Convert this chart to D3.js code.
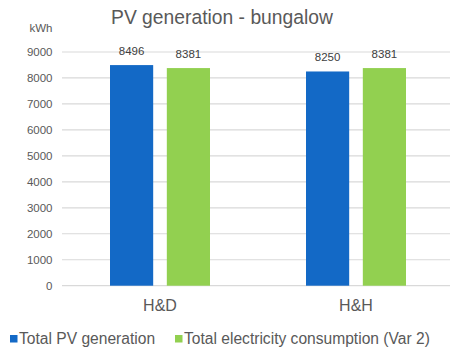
<!DOCTYPE html>
<html><head><meta charset="utf-8">
<script src="https://cdn.jsdelivr.net/npm/d3@7"></script>
<style>body{margin:0;background:#fff;}svg{display:block;font-family:"Liberation Sans",Arial,sans-serif;}</style>
</head><body>
<svg id="chart" width="452" height="349"></svg>
<script>
const categories = ["H&D", "H&H"];
const seriesNames = ["Total PV generation", "Total electricity consumption (Var 2)"];
const pvGeneration = [8496, 8250];
const consumption = [8381, 8381];
const yTicks = [0,1000,2000,3000,4000,5000,6000,7000,8000,9000];
const colors = ["#1369C6", "#92D050"];

(function(){
const svg = d3.select("#chart");
const pLeft = 62, pRight = 454, pTop = 52, pBottom = 285.7;
const x = d3.scaleBand().domain(categories).range([pLeft, pRight]).paddingInner(0).paddingOuter(0);
const x1 = d3.scaleBand().domain(seriesNames).range([x.bandwidth()/2 - 50, x.bandwidth()/2 + 50]).paddingInner(0.24);
const y = d3.scaleLinear().domain([0, 9000]).range([pBottom, pTop]);

svg.append("g").selectAll("line").data(yTicks).join("line")
  .attr("x1", pLeft).attr("x2", 450)
  .attr("y1", d => y(d)).attr("y2", d => y(d))
  .attr("stroke", "#d9d9d9").attr("stroke-width", 1.2);

const yAxis = d3.axisLeft(y).tickValues(yTicks).tickSize(0).tickPadding(0).tickFormat(d3.format("d"));
const ga = svg.append("g").attr("transform", `translate(52.5,0)`).call(yAxis);
ga.select(".domain").remove();
ga.selectAll("text").attr("fill", "#595959").style("font-size", "11.5px").style("font-family", "Liberation Sans, Arial, sans-serif");

svg.append("text").attr("x", 52.5).attr("y", 32).attr("text-anchor", "end")
  .attr("fill", "#595959").style("font-size", "11.5px").text("kWh");

svg.append("text").attr("x", 222).attr("y", 24).attr("text-anchor", "middle")
  .attr("fill", "#595959").style("font-size", "19.3px").text("PV generation - bungalow");

const data = categories.map((c, i) => ({cat: c, vals: [pvGeneration[i], consumption[i]]}));
const groups = svg.append("g").selectAll("g").data(data).join("g")
  .attr("transform", d => `translate(${x(d.cat)},0)`);
groups.selectAll("rect").data(d => d.vals.map((v, j) => ({s: seriesNames[j], v, j}))).join("rect")
  .attr("x", d => x1(d.s)).attr("width", x1.bandwidth())
  .attr("y", d => y(d.v)).attr("height", d => y(0) - y(d.v))
  .attr("fill", d => colors[d.j]);
groups.selectAll("text.val").data(d => d.vals.map((v, j) => ({s: seriesNames[j], v, j}))).join("text")
  .attr("class", "val")
  .attr("x", d => x1(d.s) + x1.bandwidth()/2).attr("y", d => y(d.v) - 10)
  .attr("text-anchor", "middle").attr("fill", "#404040").style("font-size", "11.5px")
  .text(d => d.v);

svg.append("g").selectAll("text").data(categories).join("text")
  .attr("x", d => x(d) + x.bandwidth()/2).attr("y", 311)
  .attr("text-anchor", "middle").attr("fill", "#595959").style("font-size", "16px")
  .text(d => d);

const legendX = [10, 175];
const lg = svg.append("g").selectAll("g").data(seriesNames).join("g")
  .attr("transform", (d, i) => `translate(${legendX[i]},339)`);
lg.append("rect").attr("x", 0).attr("y", -4).attr("width", 7.5).attr("height", 7.5)
  .attr("fill", (d, i) => colors[i]);
lg.append("text").attr("x", 9).attr("y", 5.2).attr("fill", "#595959")
  .style("font-size", "15.6px").text(d => d);
})();
</script>
</body></html>
